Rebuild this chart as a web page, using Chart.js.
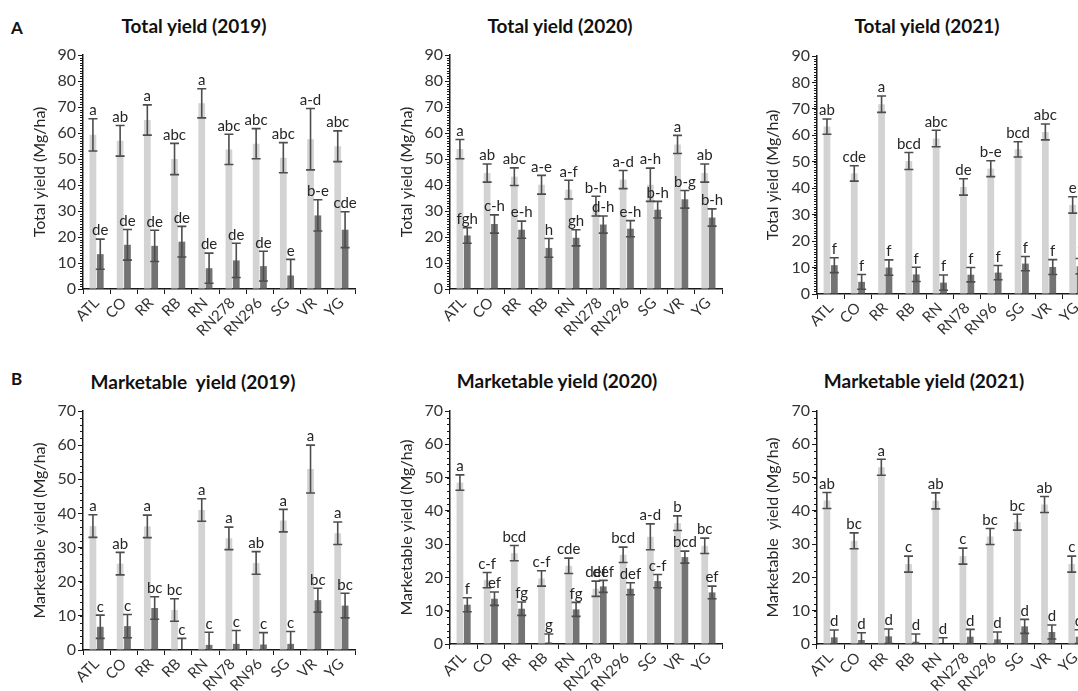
<!DOCTYPE html>
<html>
<head>
<meta charset="utf-8">
<script src="https://cdn.jsdelivr.net/npm/chart.js@4.4.1/dist/chart.umd.min.js"></script>
<style>
  body { margin: 0; background: #fff; }
  #page { position: relative; width: 1078px; height: 691px; overflow: hidden; background: #fff; font-family: Lato, "Open Sans", sans-serif; }
  .panel { position: absolute; }
  .ttl { position: absolute; transform: translate(-50%, -50%); font-weight: bold; font-size: 19px; color: #111; white-space: pre; }
  .tag { position: absolute; font-weight: bold; font-size: 17px; color: #111; }
</style>
</head>
<body>
<div id="page">
  <div class="tag" style="left:11px;top:17px">A</div>
  <div class="tag" style="left:11px;top:368px">B</div>
</div>
<script>
// ---- Data ----
const catsA = ['ATL', 'CO', 'RR', 'RB', 'RN', 'RN278', 'RN296', 'SG', 'VR', 'YG'];
const catsB = ['ATL', 'CO', 'RR', 'RB', 'RN', 'RN78', 'RN96', 'SG', 'VR', 'YG'];

// Total yield 2019
const tot19Light = [59.3, 57.0, 65.0, 50.0, 71.4, 53.7, 55.9, 50.5, 57.6, 54.9];
const tot19LightErr = [6.2, 5.9, 5.8, 6.0, 5.6, 5.8, 5.8, 5.8, 11.8, 5.9];
const tot19LightSig = ['a', 'ab', 'a', 'abc', 'a', 'abc', 'abc', 'abc', 'a-d', 'abc'];
const tot19Dark = [13.4, 17.0, 16.6, 18.2, 8.0, 11.0, 8.8, 5.2, 28.3, 22.8];
const tot19DarkErr = [5.8, 5.9, 6.0, 5.9, 5.8, 6.6, 5.7, 6.2, 6.0, 6.9];
const tot19DarkSig = ['de', 'de', 'de', 'de', 'de', 'de', 'de', 'e', 'b-e', 'cde'];

// Total yield 2020
const tot20Light = [53.8, 44.6, 43.2, 40.1, 38.2, 31.9, 42.1, 40.1, 55.6, 44.6];
const tot20LightErr = [3.7, 3.5, 3.4, 3.6, 3.6, 3.8, 3.5, 6.4, 3.5, 3.5];
const tot20LightSig = ['a', 'ab', 'abc', 'a-e', 'a-f', 'b-h', 'a-d', 'a-h', 'a', 'ab'];
const tot20Dark = [20.6, 25.0, 22.8, 15.8, 19.7, 24.8, 23.2, 30.5, 34.5, 27.5];
const tot20DarkErr = [3.0, 3.5, 3.3, 3.6, 3.1, 3.3, 3.1, 3.2, 3.4, 3.3];
const tot20DarkSig = ['fgh', 'c-h', 'e-h', 'h', 'gh', 'd-h', 'e-h', 'b-h', 'b-g', 'b-h'];

// Total yield 2021
const tot21Light = [63.3, 45.6, 71.8, 50.3, 58.8, 40.5, 47.4, 54.7, 61.3, 33.7];
const tot21LightErr = [2.9, 2.9, 3.1, 3.2, 3.1, 3.1, 3.0, 2.9, 3.0, 3.1];
const tot21LightSig = ['ab', 'cde', 'a', 'bcd', 'abc', 'de', 'b-e', 'bcd', 'abc', 'e'];
const tot21Dark = [10.9, 4.6, 10.0, 7.4, 4.3, 7.3, 8.1, 11.5, 10.2, 10.5];
const tot21DarkErr = [2.8, 2.8, 2.9, 2.7, 2.9, 2.7, 2.7, 2.7, 2.8, 2.9];
const tot21DarkSig = ['f', 'f', 'f', 'f', 'f', 'f', 'f', 'f', 'f', 'f'];

// Marketable yield 2019
const mkt19Light = [36.3, 25.3, 36.2, 11.7, 41.0, 32.7, 25.5, 37.9, 53.0, 34.2];
const mkt19LightErr = [3.3, 3.3, 3.3, 3.3, 3.3, 3.3, 3.3, 3.3, 7.0, 3.3];
const mkt19LightSig = ['a', 'ab', 'a', 'bc', 'a', 'a', 'ab', 'a', 'a', 'a'];
const mkt19Dark = [6.8, 7.0, 12.3, 0.0, 1.5, 1.8, 1.6, 1.8, 14.6, 13.0];
const mkt19DarkErr = [3.4, 3.4, 3.3, 3.4, 3.7, 3.9, 3.5, 3.6, 3.5, 3.6];
const mkt19DarkSig = ['c', 'c', 'bc', 'c', 'c', 'c', 'c', 'c', 'bc', 'bc'];

// Marketable yield 2020
const mkt20Light = [48.5, 19.2, 27.3, 19.7, 23.5, 16.6, 26.8, 32.2, 36.3, 29.5];
const mkt20LightErr = [2.3, 2.3, 2.3, 2.3, 2.3, 2.3, 2.3, 3.9, 2.2, 2.3];
const mkt20LightSig = ['a', 'c-f', 'bcd', 'c-f', 'cde', 'def', 'bcd', 'a-d', 'b', 'bc'];
const mkt20Dark = [11.8, 13.6, 10.6, 0.5, 10.4, 17.3, 16.6, 18.9, 26.1, 15.5];
const mkt20DarkErr = [2.1, 2.0, 2.0, 2.5, 2.1, 1.8, 1.8, 2.0, 1.8, 1.9];
const mkt20DarkSig = ['f', 'ef', 'fg', 'g', 'fg', 'def', 'def', 'c-f', 'bcd', 'ef'];

// Marketable yield 2021
const mkt21Light = [43.1, 31.0, 53.1, 24.0, 43.0, 26.4, 32.3, 36.6, 41.9, 24.0];
const mkt21LightErr = [2.4, 2.4, 2.4, 2.4, 2.4, 2.4, 2.4, 2.4, 2.4, 2.4];
const mkt21LightSig = ['ab', 'bc', 'a', 'c', 'ab', 'c', 'bc', 'bc', 'ab', 'c'];
const mkt21Dark = [2.0, 1.2, 2.3, 0.7, 0.0, 2.2, 1.4, 5.3, 3.6, 2.2];
const mkt21DarkErr = [2.2, 2.2, 2.2, 2.3, 1.9, 2.2, 2.2, 2.1, 2.1, 2.1];
const mkt21DarkSig = ['d', 'd', 'd', 'd', 'd', 'd', 'd', 'd', 'd', 'd'];

// ---- Look ----
const FONT = 'Lato, "Open Sans", sans-serif';
const LIGHT = '#d3d3d3';
const DARK = '#737373';
const ERR = '#4d4d4d';
const AXIS = '#1a1a1a';
const TXT = '#333333';

// ---- Panels (placement only) ----
const panels = [
  { title: 'Total yield (2019)', tx: 194, ty: 25, yTitle: 'Total yield (Mg/ha)', cats: catsA, max: 90, minor: 1,
    L: 0, T: 0, W: 375, H: 345, yTitleX: 40, x0: 83, x1: 355, y0: 55, y1: 289,
    light: tot19Light, lightErr: tot19LightErr, lightSig: tot19LightSig, dark: tot19Dark, darkErr: tot19DarkErr, darkSig: tot19DarkSig },
  { title: 'Total yield (2020)', tx: 560, ty: 25, yTitle: 'Total yield (Mg/ha)', cats: catsA, max: 90, minor: 1,
    L: 360, T: 0, W: 375, H: 345, yTitleX: 407, x0: 450, x1: 722, y0: 55, y1: 289,
    light: tot20Light, lightErr: tot20LightErr, lightSig: tot20LightSig, dark: tot20Dark, darkErr: tot20DarkErr, darkSig: tot20DarkSig },
  { title: 'Total yield (2021)', tx: 927, ty: 25, yTitle: 'Total yield (Mg/ha)', cats: catsB, max: 90, minor: 1,
    L: 725, T: 0, W: 375, H: 345, yTitleX: 773, x0: 817, x1: 1090, y0: 56, y1: 294,
    light: tot21Light, lightErr: tot21LightErr, lightSig: tot21LightSig, dark: tot21Dark, darkErr: tot21DarkErr, darkSig: tot21DarkSig },
  { title: 'Marketable  yield (2019)', tx: 193, ty: 381, yTitle: 'Marketable yield (Mg/ha)', cats: catsB, max: 70, minor: 2,
    L: 0, T: 345, W: 375, H: 346, yTitleX: 40, x0: 83, x1: 355, y0: 411, y1: 650,
    light: mkt19Light, lightErr: mkt19LightErr, lightSig: mkt19LightSig, dark: mkt19Dark, darkErr: mkt19DarkErr, darkSig: mkt19DarkSig },
  { title: 'Marketable yield (2020)', tx: 557, ty: 380, yTitle: 'Marketable yield (Mg/ha)', cats: catsA, max: 70, minor: 2,
    L: 360, T: 345, W: 375, H: 346, yTitleX: 407, x0: 450, x1: 722, y0: 411, y1: 644,
    light: mkt20Light, lightErr: mkt20LightErr, lightSig: mkt20LightSig, dark: mkt20Dark, darkErr: mkt20DarkErr, darkSig: mkt20DarkSig },
  { title: 'Marketable yield (2021)', tx: 924, ty: 380, yTitle: 'Marketable  yield (Mg/ha)', cats: catsA, max: 70, minor: 2,
    L: 725, T: 345, W: 375, H: 346, yTitleX: 773, x0: 817, x1: 1089, y0: 411, y1: 644,
    light: mkt21Light, lightErr: mkt21LightErr, lightSig: mkt21LightSig, dark: mkt21Dark, darkErr: mkt21DarkErr, darkSig: mkt21DarkSig }
];

// ---- Plugin: error bars, significance letters, minor y ticks ----
const errBarsPlugin = {
  id: 'errBars',
  afterDatasetsDraw(chart, args, opts) {
    const { ctx, chartArea, scales: { y } } = chart;
    chart.data.datasets.forEach((ds, di) => {
      const meta = chart.getDatasetMeta(di);
      meta.data.forEach((bar, i) => {
        const v = ds.data[i];
        const e = opts.err[di][i];
        const yt = y.getPixelForValue(v + e);
        const yb = y.getPixelForValue(v - e);
        ctx.save();
        ctx.beginPath();
        ctx.rect(chartArea.left, chartArea.top - 60, chartArea.width, chartArea.bottom - chartArea.top + 59);
        ctx.clip();
        ctx.strokeStyle = ERR;
        ctx.lineWidth = 1.6;
        ctx.beginPath();
        ctx.moveTo(bar.x, yt); ctx.lineTo(bar.x, yb);
        ctx.moveTo(bar.x - 4.5, yt); ctx.lineTo(bar.x + 4.5, yt);
        ctx.moveTo(bar.x - 4.5, yb); ctx.lineTo(bar.x + 4.5, yb);
        ctx.stroke();
        ctx.restore();

        ctx.save();
        ctx.font = '15px ' + FONT;
        ctx.fillStyle = '#262626';
        ctx.textAlign = 'center';
        ctx.textBaseline = 'bottom';
        ctx.fillText(opts.sig[di][i], bar.x, yt - 1);
        ctx.restore();
      });
    });
  },
  afterDraw(chart, args, opts) {
    const { ctx, chartArea, scales: { y } } = chart;
    ctx.save();
    ctx.strokeStyle = AXIS;
    ctx.lineWidth = 1;
    ctx.beginPath();
    for (let v = 0; v <= y.max; v += opts.minor) {
      const py = Math.round(y.getPixelForValue(v)) + 0.5;
      ctx.moveTo(chartArea.left - 3, py);
      ctx.lineTo(chartArea.left, py);
    }
    ctx.stroke();
    ctx.restore();
  }
};

// ---- Build ----
const page = document.getElementById('page');

panels.forEach(p => {
  const t = document.createElement('div');
  t.className = 'ttl';
  t.style.left = p.tx + 'px';
  t.style.top = p.ty + 'px';
  t.textContent = p.title;
  page.appendChild(t);

  const box = document.createElement('div');
  box.className = 'panel';
  box.style.left = p.L + 'px';
  box.style.top = p.T + 'px';
  const cv = document.createElement('canvas');
  cv.width = p.W;
  cv.height = p.H;
  box.appendChild(cv);
  page.appendChild(box);

  const titleSize = 16;
  const lh = titleSize * 1.2;
  const padLeft = p.yTitleX - p.L - lh / 2;
  const yWidth = p.x0 - p.L - padLeft;
  const xHeight = p.T + p.H - p.y1;

  new Chart(cv, {
    type: 'bar',
    data: {
      labels: p.cats,
      datasets: [
        { data: p.light, backgroundColor: LIGHT, categoryPercentage: 0.54, barPercentage: 0.92 },
        { data: p.dark, backgroundColor: DARK, categoryPercentage: 0.54, barPercentage: 0.92 }
      ]
    },
    options: {
      responsive: false,
      animation: false,
      layout: { padding: { left: padLeft, top: p.y0 - p.T, right: p.L + p.W - p.x1, bottom: 0 } },
      plugins: {
        legend: { display: false },
        tooltip: { enabled: false },
        errBars: { err: [p.lightErr, p.darkErr], sig: [p.lightSig, p.darkSig], minor: p.minor }
      },
      scales: {
        x: {
          afterFit: (s) => { s.height = xHeight; },
          border: { display: true, color: AXIS, width: 1.5 },
          grid: { display: true, drawOnChartArea: false, drawTicks: true, tickLength: 5, color: AXIS, offset: true },
          ticks: { color: TXT, font: { size: 15, family: FONT }, minRotation: 45, maxRotation: 45, padding: 0, autoSkip: false }
        },
        y: {
          min: 0,
          max: p.max,
          afterFit: (s) => { s.width = yWidth; },
          border: { display: true, color: AXIS, width: 1.5 },
          grid: { display: true, drawOnChartArea: false, drawTicks: true, tickLength: 5, color: AXIS },
          ticks: { stepSize: 10, color: TXT, font: { size: 16, family: FONT }, padding: 2 },
          title: { display: true, text: p.yTitle, color: '#262626', font: { size: titleSize, family: FONT }, padding: 0 }
        }
      }
    },
    plugins: [errBarsPlugin]
  });
});
</script>
</body>
</html>
